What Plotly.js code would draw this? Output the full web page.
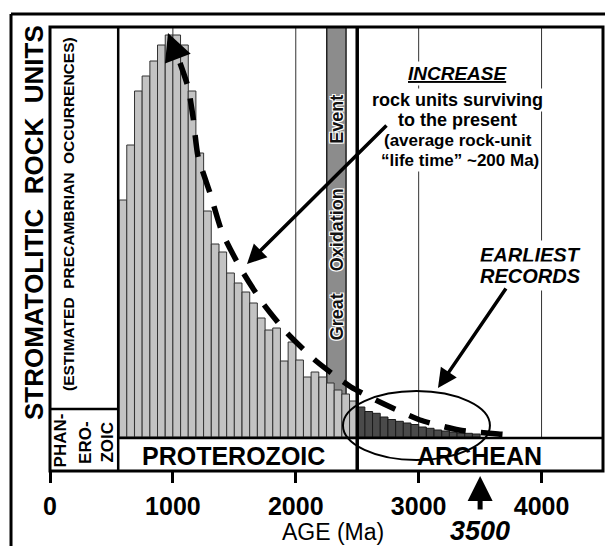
<!DOCTYPE html>
<html>
<head>
<meta charset="utf-8">
<script src="https://cdn.plot.ly/plotly-3.0.1.min.js"></script>
<style>html,body{margin:0;padding:0;background:#fff;}#chart{width:605px;height:546px;}</style>
</head>
<body>
<div id="chart"></div>
<script>
// ---- data (ages in Ma, bin width 62.5 Ma; heights in relative units) ----
var proteroAges = [594, 656, 719, 781, 844, 906, 969, 1031, 1094, 1156, 1219, 1281, 1344, 1406, 1469, 1531,
                   1594, 1656, 1719, 1781, 1844, 1906, 1969, 2031, 2094, 2156, 2219, 2281, 2344, 2406, 2469];
var proteroUnits = [237, 292, 346, 361, 376, 392, 402, 402, 392, 346, 284, 226, 193, 185, 164, 154,
                    145, 134, 119, 107, 109, 76, 95, 77, 60, 65, 60, 54, 47, 43, 36];
var archeanAges = [2531, 2594, 2656, 2719, 2781, 2844, 2906, 2969, 3031, 3094, 3156, 3219, 3281, 3344, 3406, 3469];
var archeanUnits = [30, 25.5, 23.7, 20, 17.5, 15.7, 14, 12.5, 10, 8.7, 7, 6, 5, 4, 3.7, 3];
var trendAges = [1058, 1123, 1164, 1204, 1302, 1400, 1554, 1725, 1929, 2165, 2449, 2718, 3011, 3328, 3646, 3759];
var trendUnits = [374, 350, 320, 281, 244, 205, 168, 135, 104, 76, 50, 33, 17, 7, 3, 2];
var tickAges = [0, 1000, 2000, 3000, 4000];
var tickLabels = ['0', '1000', '2000', '3000', '4000'];
var binWidth = 62.5;

var FONT = 'Liberation Sans, Arial, Helvetica, sans-serif';

var traces = [
  {type: 'bar', x: proteroAges, y: proteroUnits, width: binWidth,
   marker: {color: '#c3c3c3', line: {color: '#333', width: 1}}, hoverinfo: 'skip'},
  {type: 'bar', x: archeanAges, y: archeanUnits, width: binWidth,
   marker: {color: '#4a4a4a', line: {color: '#1a1a1a', width: 1}}, hoverinfo: 'skip'},
  {type: 'scatter', mode: 'lines', x: trendAges, y: trendUnits,
   line: {color: '#000', width: 5.5, dash: '22px,15px', shape: 'spline', smoothing: 0.6}, hoverinfo: 'skip'}
];

function vline(x, w, layer) {
  return {type: 'line', xref: 'x', yref: 'paper', x0: x, x1: x, y0: 0, y1: 1,
          line: {color: '#000', width: w}, layer: layer || 'above'};
}
var shapes = [
  // Great Oxidation Event band
  {type: 'rect', xref: 'x', yref: 'y', x0: 2252, x1: 2409, y0: 0, y1: 410,
   fillcolor: '#8c8c8c', line: {color: '#222', width: 1.5}, layer: 'below'},
  // grid lines
  {type: 'line', xref: 'x', yref: 'y', x0: 1000, x1: 1000, y0: 0, y1: 410, line: {color: '#333', width: 1}, layer: 'below'},
  {type: 'line', xref: 'x', yref: 'y', x0: 2000, x1: 2000, y0: 0, y1: 410, line: {color: '#333', width: 1}, layer: 'below'},
  {type: 'line', xref: 'x', yref: 'y', x0: 3000, x1: 3000, y0: 0, y1: 410, line: {color: '#333', width: 1}, layer: 'below'},
  {type: 'line', xref: 'x', yref: 'y', x0: 4000, x1: 4000, y0: 0, y1: 410, line: {color: '#333', width: 1}, layer: 'below'},
  // era boundaries
  vline(555, 2.5), vline(2500, 3.5),
  // era label boxes
  {type: 'line', xref: 'x', yref: 'y', x0: 0, x1: 555, y0: 28, y1: 28, line: {color: '#000', width: 2.5}},
  {type: 'line', xref: 'x', yref: 'y', x0: 555, x1: 4500, y0: -1, y1: -1, line: {color: '#000', width: 2.5}},
  // inner frame
  {type: 'rect', xref: 'paper', yref: 'paper', x0: 0, x1: 1, y0: 0, y1: 1, line: {color: '#000', width: 3}},
  // outer frame (top & left)
  {type: 'line', xref: 'paper', yref: 'paper', x0: -0.0705, x1: 1.01, y0: 1.0293, y1: 1.0293, line: {color: '#000', width: 3}},
  {type: 'line', xref: 'paper', yref: 'paper', x0: -0.0705, x1: -0.0705, y0: 1.0293, y1: -0.2, line: {color: '#000', width: 3}},
  // ellipse round the earliest records
  {type: 'circle', xref: 'x', yref: 'y', x0: 2384, x1: 3580, y0: -23, y1: 46, line: {color: '#000', width: 2}}
];

function txt(text, x, y, size, opts) {
  var a = {text: text, x: x, y: y, xref: 'x', yref: 'y', showarrow: false,
           font: {family: FONT, size: size, color: '#000'}, xanchor: 'center', yanchor: 'middle'};
  for (var k in opts) a[k] = opts[k];
  return a;
}
var halo = '-1px -1px 0 #fff, 1px -1px 0 #fff, -1px 1px 0 #fff, 1px 1px 0 #fff';

var annotations = [
  // y titles
  {text: '<b>STROMATOLITIC  ROCK  UNITS</b>', xref: 'paper', yref: 'paper', x: -0.0289, y: 0.5586,
   textangle: -90, showarrow: false, font: {family: FONT, size: 26, color: '#000'}, xanchor: 'center', yanchor: 'middle'},
  {text: '<b>(ESTIMATED  PRECAMBRIAN  OCCURRENCES)</b>', xref: 'paper', yref: 'paper', x: 0.0325, y: 0.5788,
   textangle: -90, showarrow: false, font: {family: FONT, size: 15.5, color: '#000'}, xanchor: 'center', yanchor: 'middle'},
  // era labels
  txt('<b>PHAN-</b>', 85, -3, 17, {textangle: -90}),
  txt('<b>ERO-</b>', 284, -5, 17, {textangle: -90}),
  txt('<b>ZOIC</b>', 460, -5, 17, {textangle: -90}),
  txt('<b>PROTEROZOIC</b>', 1493, -19, 25),
  txt('<b>ARCHEAN</b>', 3499, -19, 25),
  // axis title and 3500 marker
  {text: 'AGE (Ma)', xref: 'x', yref: 'paper', x: 2299, y: -0.1374, showarrow: false,
   font: {family: FONT, size: 23, color: '#000'}, xanchor: 'center', yanchor: 'middle'},
  {text: '<b><i>3500</i></b>', xref: 'x', yref: 'paper', x: 3500, y: -0.1350, showarrow: false,
   font: {family: FONT, size: 27, color: '#000'}, xanchor: 'center', yanchor: 'middle'},
  {text: '', xref: 'x', yref: 'paper', x: 3500, y: -0.011, showarrow: true, ax: 0, ay: 35,
   arrowhead: 2, arrowsize: 1, arrowwidth: 5, arrowcolor: '#000'},
  // Great Oxidation Event
  txt('<b>Event</b>', 2333, 318, 18, {textangle: -90, font: {family: FONT, size: 18, color: '#111', shadow: halo}}),
  txt('<b>Oxidation</b>', 2333, 207.5, 18, {textangle: -90, font: {family: FONT, size: 18, color: '#111', shadow: halo}}),
  txt('<b>Great</b>', 2333, 120.5, 18, {textangle: -90, font: {family: FONT, size: 18, color: '#111', shadow: halo}}),
  // increase annotation
  txt('<b><i>INCREASE</i></b>', 3320, 364, 19, {bgcolor: '#fff', borderpad: 1,
      font: {family: FONT, size: 19, color: '#000', lineposition: 'under'}}),
  txt('<b>rock units surviving</b>', 3316, 337, 18, {bgcolor: '#fff', borderpad: 1}),
  txt('<b>to the present</b>', 3320, 317, 18, {bgcolor: '#fff', borderpad: 1}),
  txt('<b>(average rock-unit</b>', 3324, 297, 17, {bgcolor: '#fff', borderpad: 1}),
  txt('<b>\u201clife time\u201d ~200 Ma)</b>', 3336, 277, 17, {bgcolor: '#fff', borderpad: 1}),
  {text: '', x: 1603, y: 173, xref: 'x', yref: 'y', showarrow: true, ax: 141, ay: -140,
   arrowhead: 2, arrowsize: 1.1, arrowwidth: 3.5, arrowcolor: '#000'},
  // earliest records
  txt('<b><i>EARLIEST</i></b>', 3906, 182, 20, {bgcolor: '#fff', borderpad: 3}),
  txt('<b><i>RECORDS</i></b>', 3910, 161, 20, {bgcolor: '#fff', borderpad: 3}),
  {text: '', x: 3157, y: 49, xref: 'x', yref: 'y', showarrow: true, ax: 69, ay: -101,
   arrowhead: 2, arrowsize: 1.1, arrowwidth: 3.5, arrowcolor: '#000'},
  // arrowhead at the start of the trend line
  {text: '', x: 960, y: 404, xref: 'x', yref: 'y', showarrow: true, ax: 10, ay: 26,
   arrowhead: 2, arrowsize: 1, arrowwidth: 5.5, arrowcolor: '#000'}
];

var layout = {
  width: 605, height: 546,
  margin: {l: 50, r: 2, t: 27, b: 75},
  paper_bgcolor: '#fff', plot_bgcolor: '#fff',
  showlegend: false, bargap: 0, barmode: 'overlay',
  xaxis: {range: [0, 4500], tickvals: tickAges, ticktext: tickLabels, ticks: 'outside', ticklen: 11,
          tickwidth: 3, tickcolor: '#000', showgrid: false, zeroline: false, showline: false,
          ticklabelstandoff: 2,
          tickfont: {family: FONT, size: 25, color: '#000', weight: 'bold'}, fixedrange: true},
  yaxis: {range: [-34, 410], visible: false, showgrid: false, zeroline: false, fixedrange: true},
  shapes: shapes,
  annotations: annotations
};

Plotly.newPlot('chart', traces, layout, {displayModeBar: false, staticPlot: true});
</script>
</body>
</html>
